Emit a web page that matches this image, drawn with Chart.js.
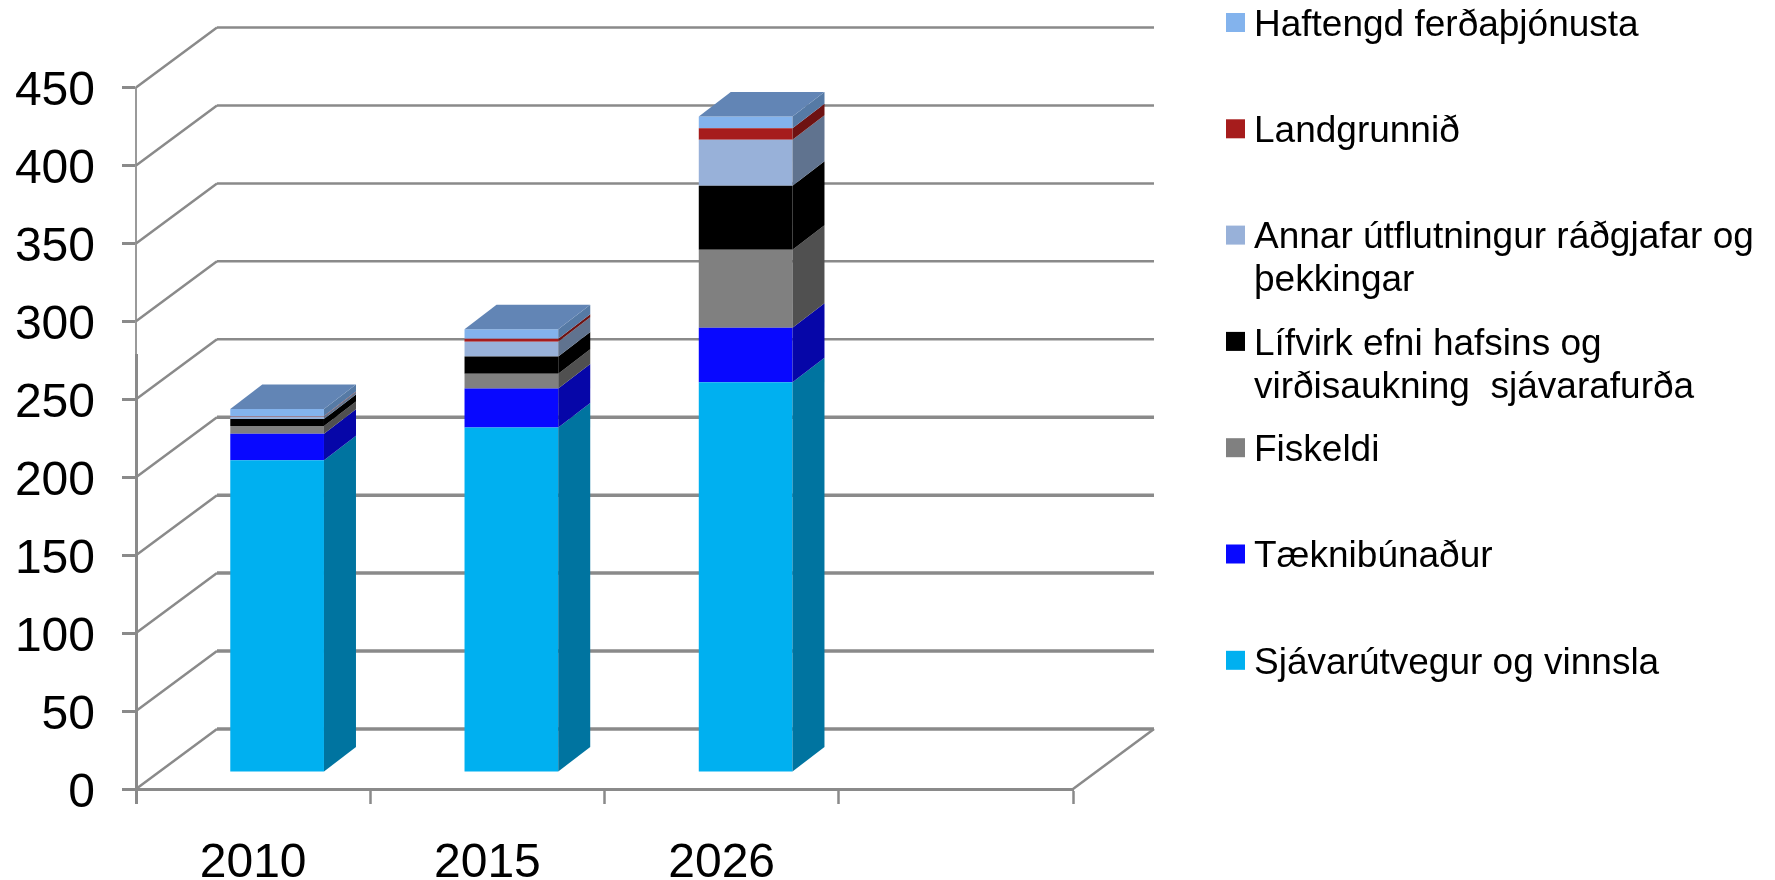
<!DOCTYPE html>
<html>
<head>
<meta charset="utf-8">
<title>Stacked bars</title>
<script src="https://cdn.jsdelivr.net/npm/chart.js@4"></script>
<style>
  html, body { margin: 0; background: #fff; }
  canvas { display: block; }
</style>
</head>
<body>
<canvas id="chart" width="1775" height="880"></canvas>
<script>
const years = ["2010", "2015", "2026", ""];
const yTicks = [0, 50, 100, 150, 200, 250, 300, 350, 400, 450];

// Values, bottom of the stack first
const sjavarutvegur = [200, 221, 250];
const taeknibunadur = [17, 25, 35];
const fiskeldi = [5, 9.5, 50];
const lifvirk = [4.5, 11, 41];
const annar = [1.5, 9.5, 29.5];
const landgrunnid = [0.3, 2, 7.5];
const haftengd = [4.5, 6, 7.5];

const seriesNames = [
  "Sjávarútvegur og vinnsla",
  "Tæknibúnaður",
  "Fiskeldi",
  "Lífvirk efni hafsins og\nvirðisaukning  sjávarafurða",
  "Annar útflutningur ráðgjafar og\nþekkingar",
  "Landgrunnið",
  "Haftengd ferðaþjónusta",
];
const seriesValues = [sjavarutvegur, taeknibunadur, fiskeldi, lifvirk, annar, landgrunnid, haftengd];
const frontColors = ["#00b0f0", "#0808ff", "#808080", "#000000", "#98b1d9", "#a61c1c", "#83b3ed"];
const sideColors = ["#0074a0", "#0606a8", "#505050", "#000000", "#60738f", "#6e1212", "#567aa5"];
const topColor = "#6285b5";
const wallColor = "#8a8a8a";
const fontName = "'Liberation Sans', Arial, sans-serif";

// The pretend 3D box: the back wall, and the bars standing inside the floor
const wall = { dx: 81, dy: -60 };
const barShift = { dx: 24, dy: -17 };
const barDepth = { dx: 32, dy: -24.5 };

// Below this value the source picture has heavier lines
const heavyBelow = 279;

function line(ctx, x1, y1, x2, y2) {
  ctx.beginPath();
  ctx.moveTo(x1, y1);
  ctx.lineTo(x2, y2);
  ctx.stroke();
}

function poly(ctx, points, color) {
  ctx.fillStyle = color;
  ctx.beginPath();
  points.forEach((p, i) => (i ? ctx.lineTo(p[0], p[1]) : ctx.moveTo(p[0], p[1])));
  ctx.closePath();
  ctx.fill();
}

// Back wall, left wall and floor, then bars get shifted into the box
const box3d = {
  id: "box3d",
  beforeDatasetsDraw(chart) {
    const { ctx, chartArea: { left, right }, scales: { y } } = chart;
    ctx.save();
    ctx.strokeStyle = wallColor;
    yTicks.forEach((v) => {
      const py = y.getPixelForValue(v);
      ctx.lineWidth = 2.5;
      line(ctx, left, py, left + wall.dx, py + wall.dy);
      ctx.lineWidth = v > 200 ? 2.5 : 3.5;
      line(ctx, left + wall.dx, py + wall.dy, right + wall.dx, py + wall.dy);
    });
    const y0 = y.getPixelForValue(0);
    ctx.lineWidth = 2.5;
    line(ctx, right, y0, right + wall.dx, y0 + wall.dy);
    // lower part of the value axis
    ctx.lineWidth = 3;
    line(ctx, left + 0.5, y.getPixelForValue(heavyBelow), left + 0.5, y0 + 15);
    ctx.restore();

    ctx.save();
    ctx.translate(barShift.dx, barShift.dy);
  },
  afterDatasetsDraw(chart) {
    const { ctx } = chart;
    const { dx, dy } = barDepth;
    seriesValues.forEach((_, s) => {
      chart.getDatasetMeta(s).data.forEach((bar) => {
        const { x, y, base, width } = bar.getProps(["x", "y", "base", "width"], true);
        const r = x + width / 2;
        const l = x - width / 2;
        poly(ctx, [[r, y], [r + dx, y + dy], [r + dx, base + dy], [r, base]], sideColors[s]);
        if (s === seriesValues.length - 1) {
          poly(ctx, [[l, y], [l + dx, y + dy], [r + dx, y + dy], [r, y]], topColor);
        }
      });
    });
    ctx.restore();
  },
};

// Legend, evenly spaced rows with the first line next to the box
const sideLegend = {
  id: "sideLegend",
  afterDraw(chart) {
    const { ctx } = chart;
    const boxX = 1226, boxSize = 19, textX = 1254, firstRow = 22.5, rowStep = 106.3, lineStep = 43;
    ctx.save();
    ctx.font = "37px " + fontName;
    ctx.textBaseline = "middle";
    ctx.textAlign = "left";
    chart.data.datasets.slice().reverse().forEach((ds, i) => {
      const rowY = firstRow + rowStep * i;
      ctx.fillStyle = ds.backgroundColor;
      ctx.fillRect(boxX, rowY - boxSize / 2, boxSize, boxSize);
      ctx.fillStyle = "#000";
      ds.label.split("\n").forEach((text, n) => ctx.fillText(text, textX, rowY + 3 + lineStep * n));
    });
    ctx.restore();
  },
};

new Chart(document.getElementById("chart"), {
  type: "bar",
  data: {
    labels: years,
    datasets: seriesNames.map((name, i) => ({
      label: name,
      data: seriesValues[i],
      backgroundColor: frontColors[i],
      borderWidth: 0,
      barPercentage: 0.4,
      categoryPercentage: 1,
      clip: false,
    })),
  },
  plugins: [box3d, sideLegend],
  options: {
    responsive: false,
    animation: false,
    events: [],
    layout: { padding: { top: 87.5, right: 702, left: 0, bottom: 0 } },
    plugins: { legend: { display: false }, tooltip: { enabled: false } },
    scales: {
      x: {
        stacked: true,
        afterFit: (scale) => { scale.height = 91; },
        grid: { offset: true, drawOnChartArea: false, tickLength: 15, tickWidth: 2.5, tickColor: wallColor },
        border: { color: wallColor, width: 3 },
        ticks: {
          color: "#000",
          padding: 31,
          maxRotation: 0,
          font: { family: fontName, size: 48 },
        },
      },
      y: {
        stacked: true,
        min: 0,
        max: 450,
        afterFit: (scale) => { scale.width = 136; },
        afterBuildTicks: (scale) => { scale.ticks = yTicks.map((value) => ({ value })); },
        grid: { drawOnChartArea: false, tickLength: 14, tickWidth: 3, tickColor: wallColor },
        border: { color: "#9a9a9a", width: 2 },
        ticks: {
          color: "#000",
          padding: 27,
          labelOffset: 4.5,
          font: { family: fontName, size: 48 },
        },
      },
    },
  },
});
</script>
</body>
</html>
